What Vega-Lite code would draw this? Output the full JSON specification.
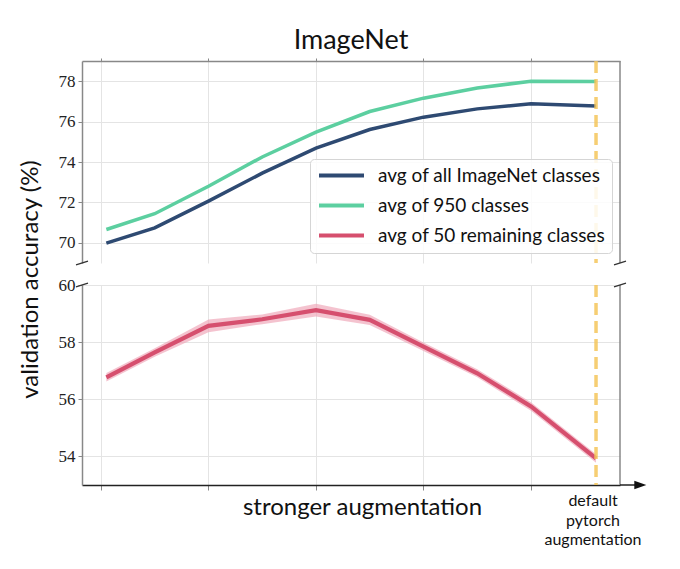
{
  "$schema": "https://vega.github.io/schema/vega-lite/v6.json",
  "padding": {"left": 18, "top": 26, "right": 5, "bottom": 5},
  "background": "white",
  "config": {
    "view": {"stroke": null},
    "axis": {
      "labelFont": "Liberation Serif",
      "labelFontSize": 17,
      "labelColor": "#222",
      "tickColor": "#888",
      "tickSize": 4,
      "tickWidth": 1,
      "gridColor": "#e4e4e4",
      "gridWidth": 1,
      "domainColor": "#888",
      "domainWidth": 1.5,
      "titleFont": "Lato",
      "titleFontSize": 24,
      "titleFontWeight": "normal",
      "titleColor": "#111"
    }
  },
  "datasets": {
    "acc": [
      {"x": 0.1, "series": "avg of all ImageNet classes", "acc": 69.98},
      {"x": 1, "series": "avg of all ImageNet classes", "acc": 70.74},
      {"x": 2, "series": "avg of all ImageNet classes", "acc": 72.06},
      {"x": 3, "series": "avg of all ImageNet classes", "acc": 73.45},
      {"x": 4, "series": "avg of all ImageNet classes", "acc": 74.69},
      {"x": 5, "series": "avg of all ImageNet classes", "acc": 75.61},
      {"x": 6, "series": "avg of all ImageNet classes", "acc": 76.22},
      {"x": 7, "series": "avg of all ImageNet classes", "acc": 76.63},
      {"x": 8, "series": "avg of all ImageNet classes", "acc": 76.88},
      {"x": 9.21, "series": "avg of all ImageNet classes", "acc": 76.77},
      {"x": 0.1, "series": "avg of 950 classes", "acc": 70.66},
      {"x": 1, "series": "avg of 950 classes", "acc": 71.44},
      {"x": 2, "series": "avg of 950 classes", "acc": 72.8},
      {"x": 3, "series": "avg of 950 classes", "acc": 74.25},
      {"x": 4, "series": "avg of 950 classes", "acc": 75.48},
      {"x": 5, "series": "avg of 950 classes", "acc": 76.5},
      {"x": 6, "series": "avg of 950 classes", "acc": 77.16},
      {"x": 7, "series": "avg of 950 classes", "acc": 77.66},
      {"x": 8, "series": "avg of 950 classes", "acc": 78.0},
      {"x": 9.21, "series": "avg of 950 classes", "acc": 77.98},
      {"x": 0.1, "series": "avg of 50 remaining classes", "acc": 56.77, "lo": 56.62, "hi": 56.92},
      {"x": 1, "series": "avg of 50 remaining classes", "acc": 57.64, "lo": 57.49, "hi": 57.79},
      {"x": 2, "series": "avg of 50 remaining classes", "acc": 58.57, "lo": 58.35, "hi": 58.79},
      {"x": 3, "series": "avg of 50 remaining classes", "acc": 58.8, "lo": 58.63, "hi": 58.97},
      {"x": 4, "series": "avg of 50 remaining classes", "acc": 59.12, "lo": 58.9, "hi": 59.34},
      {"x": 5, "series": "avg of 50 remaining classes", "acc": 58.78, "lo": 58.6, "hi": 58.96},
      {"x": 6, "series": "avg of 50 remaining classes", "acc": 57.84, "lo": 57.69, "hi": 57.99},
      {"x": 7, "series": "avg of 50 remaining classes", "acc": 56.91, "lo": 56.77, "hi": 57.05},
      {"x": 8, "series": "avg of 50 remaining classes", "acc": 55.75, "lo": 55.6, "hi": 55.9},
      {"x": 9.21, "series": "avg of 50 remaining classes", "acc": 53.93, "lo": 53.78, "hi": 54.08}
    ]
  },
  "bounds": "flush",
  "spacing": 22,
  "vconcat": [
    {
      "width": 538,
      "height": 202,
      "title": {"text": "ImageNet", "font": "Lato", "fontSize": 27, "fontWeight": "normal", "color": "#111", "offset": 3, "anchor": "middle"},
      "data": {"name": "acc"},
      "transform": [{"filter": "datum.series !== 'avg of 50 remaining classes'"}],
      "layer": [
        {
          "mark": {"type": "line", "strokeWidth": 3.5},
          "encoding": {
            "x": {"field": "x", "type": "quantitative", "scale": {"domain": [-0.353, 9.656], "nice": false, "zero": false},
                  "axis": {"orient": "top", "values": [0, 2, 4, 6, 8], "labels": false, "title": null, "grid": true, "tickSize": 3}},
            "y": {"field": "acc", "type": "quantitative", "scale": {"domain": [69, 79], "nice": false, "zero": false},
                  "axis": {"values": [70, 72, 74, 76, 78], "labelFont": "Liberation Serif", "title": "validation accuracy (%)", "titleX": -52, "titleY": 218, "titleAlign": "center", "titleBaseline": "middle", "titleAngle": -90, "labelPadding": 3}},
            "color": {"field": "series", "type": "nominal",
              "scale": {"domain": ["avg of all ImageNet classes", "avg of 950 classes", "avg of 50 remaining classes"], "range": ["#2e4a72", "#5ccfa0", "#d64f6e"]},
              "legend": {"orient": "none", "legendX": 228, "legendY": 98, "title": null, "symbolType": "M-1,0L5,0", "symbolSize": 225, "symbolStrokeWidth": 4, "labelFont": "Lato", "labelFontSize": 19, "labelColor": "#111", "labelOffset": 42, "rowPadding": 10, "padding": 7, "fillColor": "rgba(255,255,255,0.85)", "strokeColor": "#d5d5d5", "cornerRadius": 4, "labelLimit": 400}}
          }
        },
        {
          "data": {"values": [{}]},
          "mark": {"type": "rule", "color": "#f5c55a", "strokeWidth": 3.5, "strokeDash": [12, 6], "opacity": 0.85},
          "encoding": {"x": {"datum": 9.21}}
        },
        {
          "data": {"values": [{}]},
          "mark": {"type": "rule", "color": "#888", "strokeWidth": 1.5},
          "encoding": {"x": {"datum": 9.656}}
        },
        {
          "data": {"values": [{}]},
          "mark": {"type": "point", "shape": "M-1,0.33L1,-0.33", "size": 144, "filled": false, "stroke": "#333", "strokeWidth": 1.3, "opacity": 1},
          "encoding": {"x": {"datum": -0.353}, "y": {"datum": 69}}
        },
        {
          "data": {"values": [{}]},
          "mark": {"type": "point", "shape": "M-1,0.33L1,-0.33", "size": 144, "filled": false, "stroke": "#333", "strokeWidth": 1.3, "opacity": 1},
          "encoding": {"x": {"datum": 9.656}, "y": {"datum": 69}}
        }
      ]
    },
    {
      "width": 538,
      "height": 200,
      "data": {"name": "acc"},
      "transform": [{"filter": "datum.series === 'avg of 50 remaining classes'"}],
      "layer": [
        {
          "mark": {"type": "area", "color": "#eea3b6", "opacity": 0.65},
          "encoding": {
            "x": {"field": "x", "type": "quantitative", "scale": {"domain": [-0.353, 9.656], "nice": false, "zero": false},
                  "axis": {"orient": "bottom", "values": [0, 2, 4, 6, 8], "labels": false, "grid": true, "tickSize": 5, "domainColor": "#222", "title": "stronger augmentation", "titleX": 280, "titleY": 29, "titleAlign": "center", "titleBaseline": "alphabetic"}},
            "y": {"field": "lo", "type": "quantitative", "scale": {"domain": [53, 60], "nice": false, "zero": false},
                  "axis": {"values": [54, 56, 58, 60], "labelFont": "Liberation Serif", "title": null, "labelPadding": 3}},
            "y2": {"field": "hi"}
          }
        },
        {
          "mark": {"type": "line", "strokeWidth": 4.2},
          "encoding": {
            "x": {"field": "x", "type": "quantitative"},
            "y": {"field": "acc", "type": "quantitative"},
            "color": {"field": "series", "type": "nominal"}
          }
        },
        {
          "data": {"values": [{}]},
          "mark": {"type": "rule", "color": "#f5c55a", "strokeWidth": 3.5, "strokeDash": [12, 6], "opacity": 0.85},
          "encoding": {"x": {"datum": 9.21}}
        },
        {
          "data": {"values": [{}]},
          "mark": {"type": "rule", "color": "#888", "strokeWidth": 1.5},
          "encoding": {"x": {"datum": 9.656}}
        },
        {
          "data": {"values": [{}]},
          "mark": {"type": "rule", "color": "#222", "strokeWidth": 1.5},
          "encoding": {"x": {"datum": 9.656}, "x2": {"datum": 9.95}, "y": {"datum": 53}}
        },
        {
          "data": {"values": [{}]},
          "mark": {"type": "point", "shape": "M-1,-0.7L1,0L-1,0.7Z", "size": 144, "filled": true, "color": "#111", "opacity": 1},
          "encoding": {"x": {"datum": 10.034}, "y": {"datum": 53}}
        },
        {
          "data": {"values": [{}]},
          "mark": {"type": "point", "shape": "M-1,0.33L1,-0.33", "size": 144, "filled": false, "stroke": "#333", "strokeWidth": 1.3, "opacity": 1},
          "encoding": {"x": {"datum": -0.353}, "y": {"datum": 60}}
        },
        {
          "data": {"values": [{}]},
          "mark": {"type": "point", "shape": "M-1,0.33L1,-0.33", "size": 144, "filled": false, "stroke": "#333", "strokeWidth": 1.3, "opacity": 1},
          "encoding": {"x": {"datum": 9.656}, "y": {"datum": 60}}
        },
        {
          "data": {"values": [{}]},
          "mark": {"type": "text", "text": ["default", "pytorch", "augmentation"], "font": "Lato", "fontSize": 16, "align": "center", "baseline": "alphabetic", "dy": 21, "dx": -3, "lineHeight": 19.5, "color": "#111"},
          "encoding": {"x": {"datum": 9.21}, "y": {"datum": 53}}
        }
      ]
    }
  ]
}
